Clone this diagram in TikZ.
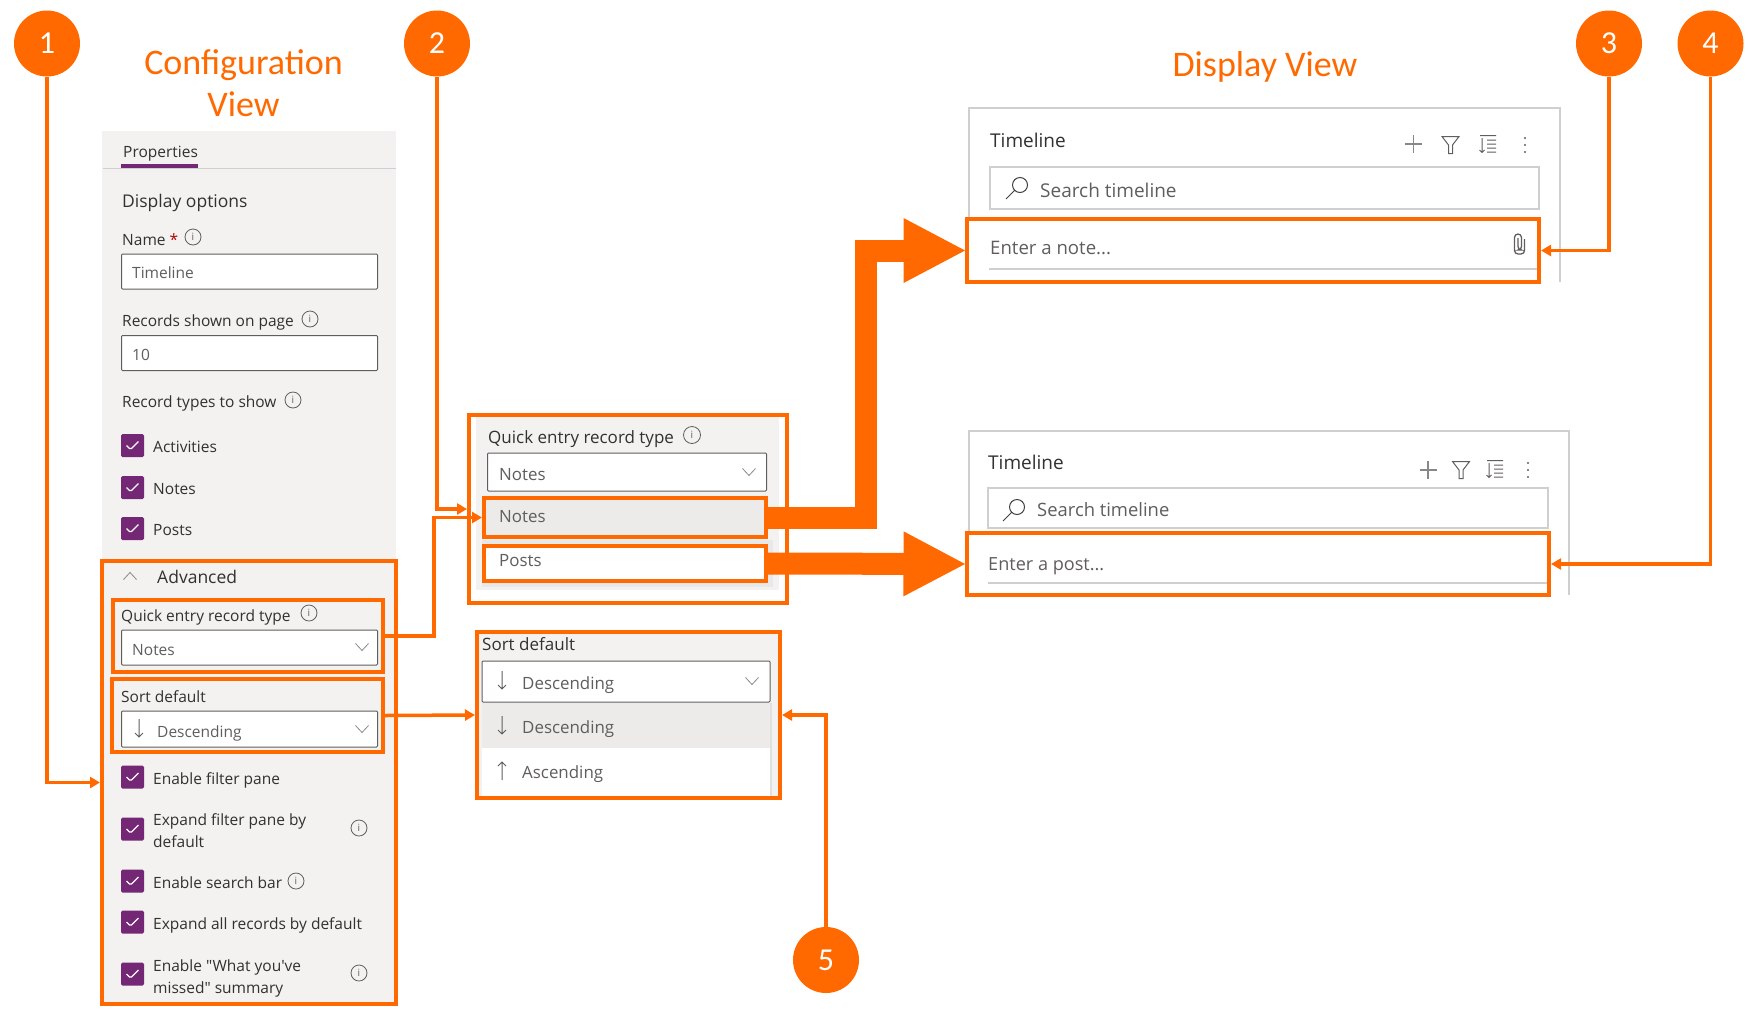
\documentclass[tikz,border=0pt]{standalone}
\usepackage{fontspec}
\newfontfamily\uifont{Open Sans}
\newfontfamily\titlefont{Carlito}
\newcommand{\uisize}[1]{\uifont\fontsize{#1}{#1}\selectfont}
\usetikzlibrary{arrows.meta}
\definecolor{callout}{HTML}{FF6900}
\definecolor{panelgrey}{HTML}{F3F2F1}
\definecolor{rowgrey}{HTML}{EDEBE9}
\definecolor{boxedge}{HTML}{605E5C}
\definecolor{cardedge}{HTML}{CFCFCF}
\definecolor{checkpurple}{HTML}{742774}
\definecolor{txtdark}{HTML}{323130}
\definecolor{txtsoft}{HTML}{605E5C}
\definecolor{iconsoft}{HTML}{8A8886}
\tikzset{
  badge/.style={circle,fill=callout,text=white,inner sep=0,minimum size=66,font=\titlefont\fontsize{32}{32}\selectfont},
  viewtitle/.style={anchor=base,inner sep=0,text=callout,font=\titlefont\fontsize{36}{40}\selectfont},
  uitext/.style={anchor=base west,inner sep=0,text=txtdark,font=\uisize{15.5}},
  softtext/.style={uitext,text=txtsoft},
  bigtext/.style={uitext,font=\uisize{17.5}},
  bigsoft/.style={softtext,font=\uisize{16.9}},
  cardhead/.style={uitext,text=txtdark,font=\uisize{19}},
  cardhint/.style={softtext,font=\uisize{#1}},
  hibox/.style={draw=callout,line width=4,inner sep=0},
  inputbox/.style={draw=boxedge,fill=white,line width=1,rounded corners=1,inner sep=0},
  cardbox/.style={draw=cardedge,fill=white,line width=2,inner sep=0},
  infoicon/.style={circle,draw=txtsoft,line width=.8,inner sep=0,minimum size=16,text=txtsoft,font=\uisize{10}},
  checkbox/.style={fill=checkpurple,rounded corners=1.5,inner sep=0,minimum size=23,
    path picture={\draw[white,line width=1.2]
      ([shift={(-6,0)}]path picture bounding box.center) -- ([shift={(-2,4)}]path picture bounding box.center) -- ([shift={(6,-4)}]path picture bounding box.center);}},
  callline/.style={draw=callout,line width=3.5,miter limit=10,-{Triangle[width=11pt,length=10pt]}},
  bigline/.style={draw=callout,line width=22,shorten >=-1.5pt,-{Triangle[width=60pt,length=63pt]}},
  chevron/.pic={\draw[iconsoft,line width=.8] (-6.5,-3.5) -- (0,3.5) -- (6.5,-3.5);},
  chevronup/.pic={\draw[iconsoft,line width=.8] (-6.5,3.5) -- (0,-3.5) -- (6.5,3.5);},
  downarrow/.pic={\draw[txtsoft,line width=1] (0,-9) -- (0,9) (-4,5) -- (0,9) -- (4,5);},
  uparrow/.pic={\draw[txtsoft,line width=1] (0,-9) -- (0,9) (-4,-5) -- (0,-9) -- (4,-5);},
  plusicon/.pic={\draw[iconsoft,line width=1.2] (-8.5,0) -- (8.5,0) (0,-9) -- (0,9);},
  funnelicon/.pic={\draw[txtsoft,line width=1] (-8.5,-8.5) -- (8.5,-8.5) -- (2,0) -- (2,8.5) -- (-2,8.5) -- (-2,0) -- cycle;},
  sorticon/.pic={\draw[txtsoft,line width=1] (-8,-8.5) -- (8,-8.5) (-1,-4) -- (8,-4) (-1,0) -- (8,0) (-1,4) -- (8,4) (-1,8) -- (8,8) (-6,-6) -- (-6,8.5) (-8.5,6) -- (-6,8.5) -- (-3.5,6);},
  dotsicon/.pic={\fill[txtsoft] (0,-7) circle (1.1) (0,0) circle (1.1) (0,7) circle (1.1);},
  searchicon/.pic={\draw[black!75,line width=1] (3,-3) circle (7.5) (-2.5,2.5) -- (-11,11);},
  clipicon/.pic={\draw[txtsoft,line width=1.3,rounded corners=3.5] (-1.5,-5) -- (-1.5,7) -- (2,7) -- (2,-9) -- (-5,-9) -- (-5,11) -- (5,11) -- (5,-4);}
}
\begin{document}
\begin{tikzpicture}[x=1pt,y=-1pt]
  \useasboundingbox (0,0) rectangle (1748,1026);
  % titles
  \node[viewtitle] (conftitle) at (243.5,74) {Configuration};
  \node[viewtitle] (viewtitle) at (243.5,116.5) {View};
  \node[viewtitle] (disptitle) at (1265,76) {Display View};
  % left panel
  \fill[panelgrey] (102,131) rectangle (396,1003);
  \draw[cardedge,line width=1] (103,168) -- (396,168);
  \fill[checkpurple] (121,164) rectangle (198,168);
  \node[uitext] (tabprops) at (123,157) {Properties};
  \node[bigtext] (dispopts) at (122,207) {Display options};
  \node[uitext] (namelbl) at (122,245) {Name \textcolor{red!70!black}{*}};
  \node[infoicon] (infoname) at (193,237) {i};
  \node[inputbox,minimum width=256,minimum height=35] (nameinput) at (249.5,271.5) {};
  \node[softtext] (nameval) at (132,278.5) {Timeline};
  \node[uitext] (recslbl) at (122,326) {Records shown on page};
  \node[infoicon] (inforecs) at (310,319) {i};
  \node[inputbox,minimum width=256,minimum height=35] (recsinput) at (249.5,353) {};
  \node[softtext] (recsval) at (132,360) {10};
  \node[uitext] (typeslbl) at (122,407) {Record types to show};
  \node[infoicon] (infotypes) at (293,400) {i};
  \foreach \i/\cy/\base/\txt in {1/445.5/452.5/Activities,2/487.5/494/Notes,3/528.5/535/Posts,
      4/777/784/Enable filter pane,5/829/825/Expand filter pane by,6/881/888/Enable search bar,
      7/922/929/Expand all records by default,8/974/971/{Enable "What you've}} {
    \node[checkbox] (check\i) at (132.5,\cy) {};
    \node[uitext] (checktext\i) at (153,\base) {\txt};
  }
  \node[uitext] (checktext5b) at (153,847) {default};
  \node[uitext] (checktext8b) at (153,993) {missed" summary};
  \node[infoicon] (infofilter) at (359,828) {i};
  \node[infoicon] (infosearch) at (296,881) {i};
  \node[infoicon] (infomissed) at (359,973) {i};
  \pic at (130,576) {chevronup};
  \node[bigtext] (advlbl) at (157,583) {Advanced};
  \node[uitext] (quicklbl) at (121,621) {Quick entry record type};
  \node[infoicon] (infoquick) at (309,613) {i};
  \node[inputbox,minimum width=256,minimum height=35] (quickinput) at (249.5,647.5) {};
  \node[softtext] (quickval) at (132,655) {Notes};
  \pic at (362,647) {chevron};
  \node[uitext] (sortlbl) at (121,702) {Sort default};
  \node[inputbox,minimum width=256,minimum height=36] (sortinput) at (249.5,729) {};
  \pic at (139,728) {downarrow};
  \node[softtext] (sortval) at (157,737) {Descending};
  \pic at (362,729) {chevron};
  \node[hibox,minimum width=294,minimum height=443] (advbox) at (249,782.5) {};
  \node[hibox,minimum width=270,minimum height=72] (quickbox) at (248,636) {};
  \node[hibox,minimum width=271,minimum height=73] (sortbox) at (247.5,715.5) {};
  % quick entry dropdown
  \fill[panelgrey] (476,417) rectangle (779,590);
  \fill[black!9] (482,540) rectangle (773,587);
  \node[bigtext,font=\uisize{17}] (dropquicklbl) at (488,443) {Quick entry record type};
  \node[infoicon,minimum size=17] (infodrop) at (692,435) {i};
  \node[inputbox,minimum width=279,minimum height=38] (dropquickinput) at (627,472) {};
  \node[bigsoft] (dropquickval) at (499,480) {Notes};
  \pic at (749,472) {chevron};
  \node[hibox,fill=rowgrey,minimum width=282,minimum height=39] (notesbox) at (625,517.5) {};
  \node[bigsoft] (notesitem) at (499,522) {Notes};
  \node[hibox,fill=white,minimum width=282,minimum height=35] (postsbox) at (625,563.5) {};
  \node[bigsoft] (postsitem) at (499,566.5) {Posts};
  \node[hibox,minimum width=318,minimum height=188] (quickpanel) at (628,509) {};
  % sort dropdown
  \fill[panelgrey] (479,634) rectangle (778,796);
  \fill[black!12] (482,703) rectangle (772,796);
  \node[bigtext,font=\uisize{17}] (dropsortlbl) at (482,650) {Sort default};
  \node[inputbox,minimum width=288,minimum height=41] (dropsortinput) at (626,681.5) {};
  \pic at (502,680) {downarrow};
  \node[bigsoft] (dropsortval) at (522,689) {Descending};
  \pic at (752,681) {chevron};
  \fill[rowgrey] (482,703) rectangle (770,748);
  \fill[white] (482,748) rectangle (770,796);
  \pic at (502,725) {downarrow};
  \node[bigsoft] (descitem) at (522,733) {Descending};
  \pic at (502,771) {uparrow};
  \node[bigsoft] (ascitem) at (522,778.5) {Ascending};
  \node[hibox,minimum width=303,minimum height=166] (sortpanel) at (628.5,715) {};
  % display cards
  \draw[cardedge,line width=2] (969,219) -- (969,108) -- (1560,108) -- (1560,282);
  \node[cardhead] (cardonetitle) at (990,147) {Timeline};
  \pic at (1413.5,144) {plusicon};
  \pic at (1450.5,145) {funnelicon};
  \pic at (1488,144) {sorticon};
  \pic at (1525,145) {dotsicon};
  \node[cardbox,minimum width=549,minimum height=42] (cardonesearch) at (1264.5,188) {};
  \pic at (1017,188) {searchicon};
  \node[cardhint=19] (cardonehint) at (1040,197) {Search timeline};
  \draw[cardedge,line width=2] (989,269) -- (1538,269);
  \node[cardhint=18.6] (notehint) at (990,254) {Enter a note...};
  \pic at (1519.5,243) {clipicon};
  \node[hibox,minimum width=572,minimum height=63] (notefield) at (1253,250.5) {};
  \draw[cardedge,line width=2] (969,533) -- (969,431) -- (1568.5,431) -- (1568.5,595);
  \node[cardhead] (cardtwotitle) at (988,469) {Timeline};
  \pic at (1428,470) {plusicon};
  \pic at (1461,470) {funnelicon};
  \pic at (1495,469) {sorticon};
  \pic at (1528,470) {dotsicon};
  \node[cardbox,minimum width=560,minimum height=40] (cardtwosearch) at (1268,508) {};
  \pic at (1014,510) {searchicon};
  \node[cardhint=18.4] (cardtwohint) at (1037,516.5) {Search timeline};
  \draw[cardedge,line width=2] (988,583) -- (1548,583);
  \node[cardhint=18.1] (posthint) at (988,570) {Enter a post...};
  \node[hibox,minimum width=582,minimum height=62] (postfield) at (1258,564) {};
  % callouts
  \node[badge] (badge1) at (47,43.5) {1};
  \node[badge] (badge2) at (437,43.5) {2};
  \node[badge] (badge3) at (1609,43.5) {3};
  \node[badge] (badge4) at (1710.5,43.5) {4};
  \node[badge] (badge5) at (826,960) {5};
  \coordinate (bendquick) at (434,576);
  \coordinate (bendnotes) at (866,250.5);
  \draw[callline] (badge1) |- (advbox.west);
  \draw[callline] (badge2) |- (quickpanel.west);
  \draw[callline] (quickbox.east) -| (bendquick) |- (notesbox.west);
  \draw[callline] (sortbox.east) -- (sortpanel.west);
  \draw[callline] (badge3) |- (notefield.east);
  \draw[callline] (badge4) |- (postfield.east);
  \draw[callline] (badge5) |- (sortpanel.east);
  \draw[bigline] (notesbox.east) -| (bendnotes) -- (notefield.west);
  \draw[bigline] (postsbox.east) -- (postfield.west);
\end{tikzpicture}
\end{document}
